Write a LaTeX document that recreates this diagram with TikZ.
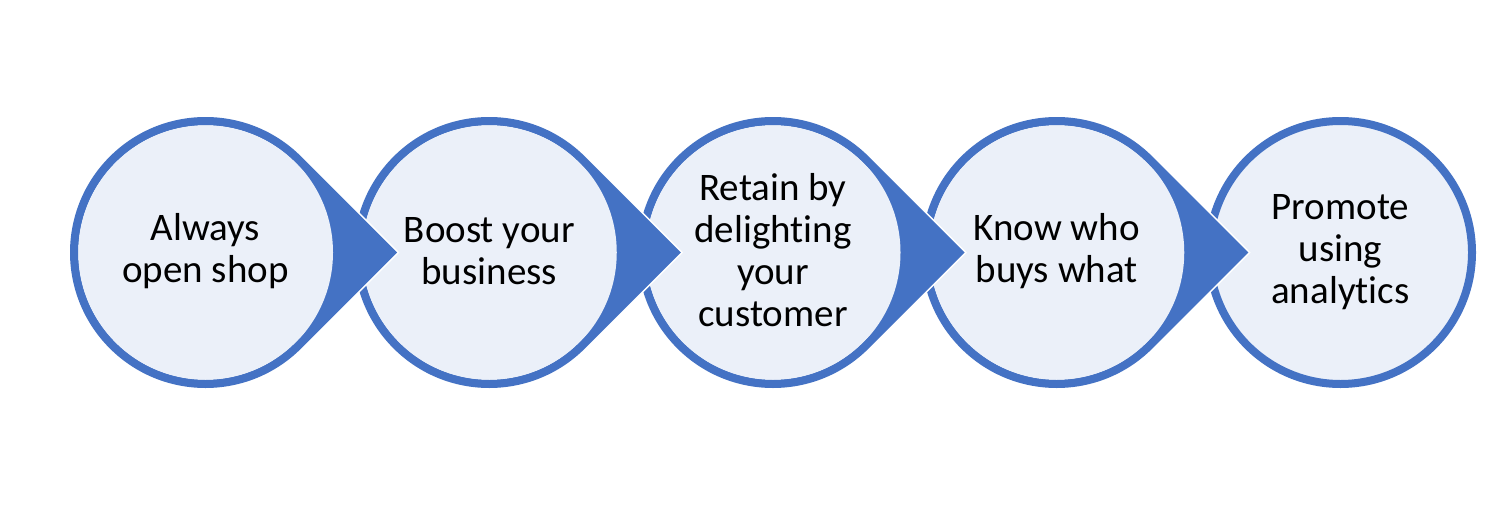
\documentclass[tikz,border=0pt]{standalone}
\usepackage{fontspec}
\setmainfont{Carlito}[Ligatures={NoCommon,NoRare,NoContextual}]
\definecolor{accent}{HTML}{4472C4}
\definecolor{lightfill}{HTML}{EBF0F9}
\tikzset{
  halo/.style={draw=white, line width=11pt, line join=miter},
  ring/.style={draw=accent, line width=8pt, line join=miter},
  steptext/.style={align=center, inner sep=0pt, text=black, font=\fontsize{39}{42}\selectfont},
}
\begin{document}
\begin{tikzpicture}[x=1pt,y=-1pt]
\useasboundingbox (0,0) rectangle (1486,506);
% last circle
\path[fill=lightfill, ring] (1340.5,252.5) circle[radius=131.5];
% teardrop shapes, right to left
\foreach \cx in {1056.75, 773, 489.25, 205.5} {
  \path[halo] (\cx,252.5) ++(45:131.5) arc[start angle=45,end angle=315,radius=131.5] -- (\cx+186,252.5) -- cycle;
  \fill[accent] (\cx,252.5) ++(45:131.5) arc[start angle=45,end angle=315,radius=131.5] -- (\cx+186,252.5) -- cycle;
  \fill[lightfill] (\cx,252.5) circle[radius=127.5];
  \path[ring] (\cx,252.5) ++(45:131.5) arc[start angle=45,end angle=315,radius=131.5] -- (\cx+186,252.5) -- cycle;
}
\node[steptext] (s1) at (205.5,251) {Always\\open shop};
\node[steptext] (s2) at (489.25,251) {Boost your\\business};
\node[steptext] (s3) at (773,250.5) {Retain by\\delighting\\your\\customer};
\node[steptext] (s4) at (1056.75,251) {Know who\\buys what};
\node[steptext] (s5) at (1340.5,252) {Promote\\using\\analytics};
\end{tikzpicture}
\end{document}
